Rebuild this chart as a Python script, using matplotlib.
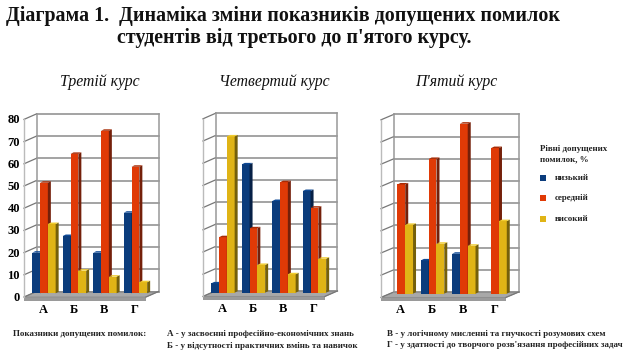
import matplotlib
matplotlib.use("Agg")
import matplotlib.pyplot as plt
from matplotlib.patches import Polygon, Rectangle
from matplotlib.transforms import Affine2D

plt.rcParams['font.family'] = ['Liberation Serif', 'DejaVu Serif']

W, H = 628, 359

categories = ['А', 'Б', 'В', 'Г']
levels = ['низький', 'середній', 'високий']
y_ticks = [0, 10, 20, 30, 40, 50, 60, 70, 80]

course_titles = ['Третій курс', 'Четвертий курс', "П'ятий курс"]

low_3 = [18.3, 25.8, 18.3, 36.3]
mid_3 = [49.8, 62.8, 73.2, 57.0]
high_3 = [31.2, 10.2, 7.5, 5.0]

low_4 = [4.2, 57.8, 41.3, 45.8]
mid_4 = [25.0, 29.0, 49.8, 38.3]
high_4 = [70.4, 12.5, 8.3, 15.3]

low_5 = [0, 15.0, 18.0, 0]
mid_5 = [49.2, 60.7, 76.6, 65.6]
high_5 = [31.0, 22.5, 21.6, 32.7]

colors = ['#0b3c7c', '#e03a06', '#e0b416']
side_colors = ['#062046', '#74200a', '#75600a']
top_colors = ['#0f4a96', '#a82c06', '#f0cc30']


def px_axes(fig, left, right, top, bottom):
    return fig.add_axes([left / W, 1 - bottom / H, (right - left) / W, (bottom - top) / H])


# one panel, front floor edge given in pixels, walls and bars shifted back by pixel offsets
def draw_panel(fig, left, right, top, series, title, title_x, depth_x, show_labels):
    bottom = top + 80 * 2.22
    ax = px_axes(fig, left, right, top, bottom)
    ax.set_xlim(-0.5, 3.5)
    ax.set_ylim(0, 80)
    ax.axis('off')

    depth_y = 5.5
    back = ax.transData + Affine2D().translate(depth_x, depth_y)
    bar_shift = ax.transData + Affine2D().translate(4.7, 3.7)
    inv = ax.transData.inverted()

    # floor, with its front edge
    ax.add_patch(Polygon([(-0.5, -1.6), (3.5, -1.6), (3.5, 0), (-0.5, 0)], closed=True,
                         fc='#9a9a9a', ec='none', clip_on=False, zorder=1))
    p0 = ax.transData.transform((-0.5, 0))
    p1 = ax.transData.transform((3.5, 0))
    floor = [p0, p1, p1 + (depth_x, depth_y), p0 + (depth_x, depth_y)]
    ax.add_patch(Polygon([inv.transform(p) for p in floor], closed=True, fc='#a8a8a8',
                         ec='#8c8c8c', lw=0.6, clip_on=False, zorder=1))

    # back wall grid and side wall ticks
    for v in y_ticks:
        ax.plot([-0.5, 3.5], [v, v], color='#8a8a8a', lw=1.1, transform=back, clip_on=False, zorder=2)
        q0 = ax.transData.transform((-0.5, v))
        a, b = inv.transform(q0), inv.transform(q0 + (depth_x, depth_y))
        ax.plot([a[0], b[0]], [a[1], b[1]], color='#777777', lw=0.9, clip_on=False, zorder=2)
    ax.plot([-0.5, -0.5], [0, 80], color='#999999', lw=1.1, transform=back, clip_on=False, zorder=2)
    ax.plot([3.5, 3.5], [0, 80], color='#999999', lw=1.1, transform=back, clip_on=False, zorder=2)
    ax.plot([-0.5, -0.5], [0, 80], color='#bbbbbb', lw=1.0, clip_on=False, zorder=2)
    a, b = inv.transform(p1), inv.transform(p1 + (depth_x, depth_y))
    ax.plot([a[0], b[0]], [a[1], b[1]], color='#777777', lw=0.9, clip_on=False, zorder=2)

    # bars
    px_per_cat = (right - left) / 4
    bar_w = 7.8 / px_per_cat
    side_x = 3.0 / px_per_cat
    side_y = 1.5 / 2.22
    for c in range(4):
        for s in range(3):
            val = series[s][c]
            if val <= 0:
                continue
            x0 = c + (s - 1.5) * bar_w
            z = 5 + c * 3 + s
            ax.bar([x0 + bar_w / 2], [val], width=bar_w, color=colors[s], transform=bar_shift,
                   clip_on=False, zorder=z)
            ax.add_patch(Polygon([(x0 + bar_w, 0), (x0 + bar_w + side_x, side_y),
                                  (x0 + bar_w + side_x, val + side_y), (x0 + bar_w, val)],
                                 closed=True, fc=side_colors[s], ec='none', transform=bar_shift,
                                 clip_on=False, zorder=z))
            ax.add_patch(Polygon([(x0, val), (x0 + bar_w, val),
                                  (x0 + bar_w + side_x, val + side_y), (x0 + side_x, val + side_y)],
                                 closed=True, fc=top_colors[s], ec='none', transform=bar_shift,
                                 clip_on=False, zorder=z))

    # category labels under the floor
    for c, name in enumerate(categories):
        ax.annotate(name, (c, 0), xytext=(4, -13), textcoords='offset pixels', ha='center', va='center',
                    fontsize=9, fontweight='bold', color='black', annotation_clip=False)
    if show_labels:
        for v in y_ticks:
            ax.annotate(str(v), (-0.5, v), xytext=(-4, -1), textcoords='offset pixels', ha='right', va='center',
                        fontsize=9, fontweight='bold', color='black', annotation_clip=False)
    fig.text(title_x / W, 1 - 82 / H, title, fontsize=11.3, style='italic', ha='center', va='center', color='#111111')


fig = plt.figure(figsize=(W / 100, H / 100), dpi=100, facecolor='white')

draw_panel(fig, 24, 146, 119.4, [low_3, mid_3, high_3], course_titles[0], 99.5, 12.5, True)
draw_panel(fig, 203, 325, 118.8, [low_4, mid_4, high_4], course_titles[1], 274, 12.5, False)
draw_panel(fig, 381, 506, 119.8, [low_5, mid_5, high_5], course_titles[2], 456, 13, False)

# heading
fig.text(6 / W, 1 - 16 / H, 'Діаграма 1.  Динаміка зміни показників допущених помилок',
         fontsize=14.4, fontweight='bold', ha='left', va='center', color='#111111')
fig.text(117 / W, 1 - 37.5 / H, "студентів від третього до п'ятого курсу.",
         fontsize=14.4, fontweight='bold', ha='left', va='center', color='#111111')

# legend
fig.text(540 / W, 1 - 149 / H, 'Рівні допущених', fontsize=6.4, fontweight='bold', va='center', color='#222222')
fig.text(540 / W, 1 - 159 / H, 'помилок, %', fontsize=6.4, fontweight='bold', va='center', color='#222222')
legend_y = [178, 198, 219]
for name, col, ly in zip(levels, colors, legend_y):
    fig.add_artist(Rectangle((540 / W, 1 - (ly + 3) / H), 6 / W, 6 / H, fc=col, ec='none', transform=fig.transFigure))
    fig.text(555 / W, 1 - ly / H, name, fontsize=6.4, fontweight='bold', va='center', color='#222222')

# footnotes
fig.text(13 / W, 1 - 334 / H, 'Показники допущених помилок:', fontsize=6.5, fontweight='bold', va='center', color='#222222')
fig.text(167 / W, 1 - 334 / H, 'А - у засвоєнні професійно-економічних знань', fontsize=6.5, fontweight='bold', va='center', color='#222222')
fig.text(167 / W, 1 - 346 / H, 'Б - у відсутності практичних вмінь та навичок', fontsize=6.5, fontweight='bold', va='center', color='#222222')
fig.text(387 / W, 1 - 334 / H, 'В - у логічному мисленні та гнучкості розумових схем', fontsize=6.5, fontweight='bold', va='center', color='#222222')
fig.text(387 / W, 1 - 345 / H, "Г - у здатності до творчого розв'язання професійних задач", fontsize=6.5, fontweight='bold', va='center', color='#222222')

fig.savefig('out.png', dpi=100)
